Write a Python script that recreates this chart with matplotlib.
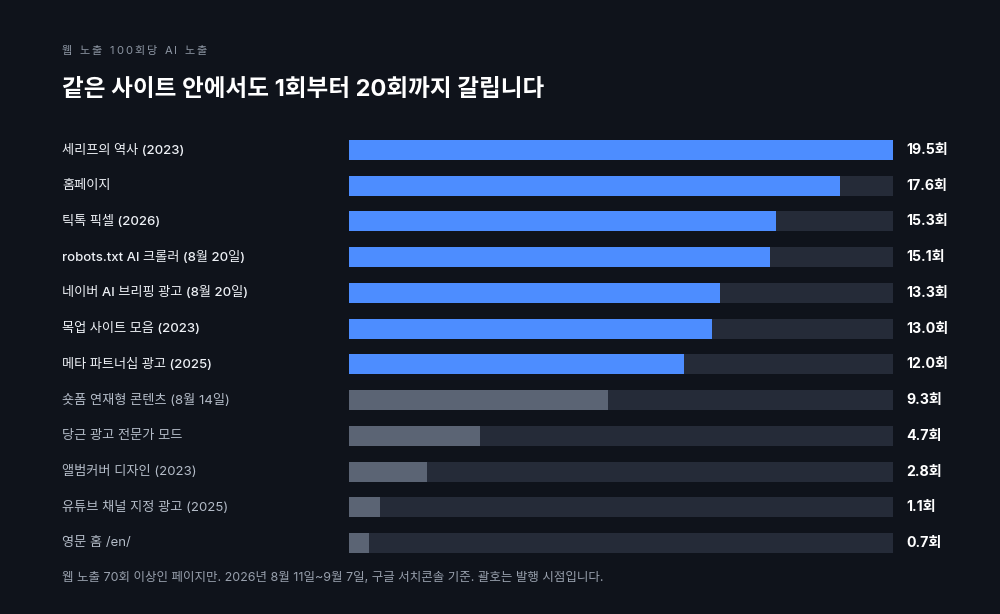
import matplotlib
matplotlib.use("Agg")
import matplotlib.pyplot as plt
from matplotlib.transforms import blended_transform_factory

plt.rcParams['font.family'] = ['Inter', 'Noto Sans CJK KR', 'DejaVu Sans']

categories = [
    "세리프의 역사 (2023)",
    "홈페이지",
    "틱톡 픽셀 (2026)",
    "robots.txt AI 크롤러 (8월 20일)",
    "네이버 AI 브리핑 광고 (8월 20일)",
    "목업 사이트 모음 (2023)",
    "메타 파트너십 광고 (2025)",
    "숏폼 연재형 콘텐츠 (8월 14일)",
    "당근 광고 전문가 모드",
    "앨범커버 디자인 (2023)",
    "유튜브 채널 지정 광고 (2025)",
    "영문 홈 /en/",
]
values = [19.5, 17.6, 15.3, 15.1, 13.3, 13.0, 12.0, 9.3, 4.7, 2.8, 1.1, 0.7]
highlight = [True] * 7 + [False] * 5

subtitle = "웹 노출 100회당 AI 노출"
title = "같은 사이트 안에서도 1회부터 20회까지 갈립니다"
footnote = "웹 노출 70회 이상인 페이지만. 2026년 8월 11일~9월 7일, 구글 서치콘솔 기준. 괄호는 발행 시점입니다."

BG = "#0f131b"
BLUE = "#4d8dff"
GRAY = "#5b6474"
TRACK = "#252b38"

W, H = 1000, 614
fig = plt.figure(figsize=(W / 100, H / 100), dpi=100, facecolor=BG)

n = len(values)
row_top, row_bot = 150, 543
step = (row_bot - row_top) / (n - 1)
ax_top = row_top - step / 2
ax_bot = row_bot + step / 2
left_px, right_px = 349, 893
ax = fig.add_axes([left_px / W, 1 - ax_bot / H, (right_px - left_px) / W, (ax_bot - ax_top) / H])
ax.set_facecolor(BG)
ax.set_xlim(0, max(values))
ax.set_ylim(n - 0.5, -0.5)
ax.axis('off')

ypos = list(range(n))
bh = 20 / step
ax.barh(ypos, [max(values)] * n, height=bh, color=TRACK, linewidth=0)
ax.barh(ypos, values, height=bh, color=[BLUE if h else GRAY for h in highlight], linewidth=0)

tr = blended_transform_factory(fig.transFigure, ax.transData)
for i, (c, v, h) in enumerate(zip(categories, values, highlight)):
    ax.text(62 / W, i, c, transform=tr, ha='left', va='center', fontsize=9.5,
            color="#eef1f6" if h else "#b4bcc8", fontweight='medium' if h else 'normal')
    ax.text(906 / W, i, f"{v:.1f}회", transform=tr, ha='left', va='center', fontsize=10.2,
            color="#ffffff", fontweight='bold')

# letter-spaced subtitle
renderer = fig.canvas.get_renderer()
x = 62
for ch in subtitle:
    t = fig.text(x / W, 1 - 51 / H, ch, ha='left', va='center', fontsize=8, color="#8d96a3")
    bb = t.get_window_extent(renderer=renderer)
    x += bb.width + 2.1

fig.text(62 / W, 1 - 90 / H, title, ha='left', va='center', fontsize=17,
         color="#ffffff", fontweight='bold')
fig.text(62 / W, 1 - 578 / H, footnote, ha='left', va='center', fontsize=9.0,
         color="#98a0ad")

fig.savefig("out.png", dpi=100, facecolor=BG)
